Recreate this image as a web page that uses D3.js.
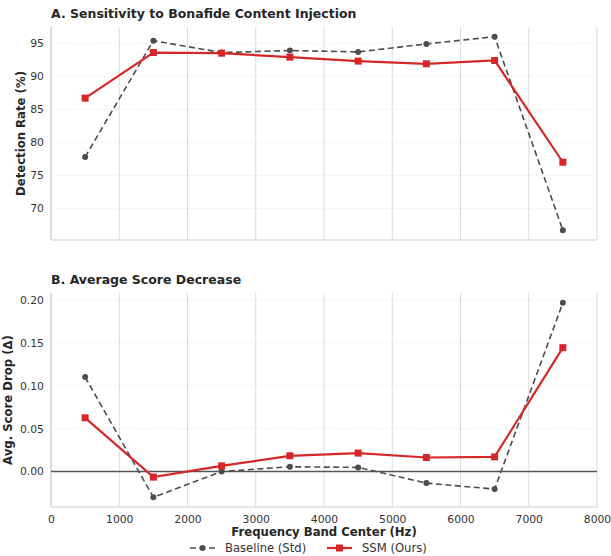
<!DOCTYPE html>
<html>
<head>
<meta charset="utf-8">
<script src="https://cdn.jsdelivr.net/npm/d3@7"></script>
<style>
  html, body { margin: 0; padding: 0; background: #fff; }
  svg { display: block; font-family: "DejaVu Sans", sans-serif; }
</style>
</head>
<body>
<svg id="chart" width="611" height="556"></svg>
<script>
// Frequency bands (centre, Hz)
const bands = [500, 1500, 2500, 3500, 4500, 5500, 6500, 7500];

// Panel A: detection rate (%)
const detBaseline = [77.8, 95.4, 93.6, 93.9, 93.7, 94.9, 96.0, 66.7];
const detSSM      = [86.7, 93.6, 93.5, 92.9, 92.3, 91.9, 92.4, 77.0];

// Panel B: average score drop
const dropBaseline = [0.110, -0.030, 0.000, 0.0055, 0.0048, -0.0135, -0.0205, 0.1965];
const dropSSM      = [0.0625, -0.0065, 0.0066, 0.0183, 0.0214, 0.0163, 0.0170, 0.1442];

const xTicks = [0, 1000, 2000, 3000, 4000, 5000, 6000, 7000, 8000];
const yTicksA = [70, 75, 80, 85, 90, 95];
const yTicksB = [0.00, 0.05, 0.10, 0.15, 0.20];

const seriesNames = ["Baseline (Std)", "SSM (Ours)"];

const svg = d3.select("#chart");
const textColor = "#262626";
const gray = "#4d4d4d";
const red = "#d62728";

const left = 51, right = 597;
const x = d3.scaleLinear().domain([0, 8000]).range([left, right]);

function padDomain(arrs) {
  const all = arrs.flat();
  const lo = d3.min(all), hi = d3.max(all);
  const p = (hi - lo) * 0.05;
  return [lo - p, hi + p];
}

function panel(opts) {
  const { top, bottom, baseVals, ssmVals, yTicks, fmt, title, ylabel, showX, zeroLine } = opts;
  const y = d3.scaleLinear().domain(padDomain([baseVals, ssmVals])).range([bottom, top]);
  const g = svg.append("g");

  // vertical grid
  g.append("g").selectAll("line").data(xTicks).join("line")
    .attr("x1", d => x(d)).attr("x2", d => x(d))
    .attr("y1", top).attr("y2", bottom)
    .attr("stroke", "#dcdcdc").attr("stroke-width", 1);

  // horizontal grid (dotted)
  g.append("g").selectAll("line").data(yTicks).join("line")
    .attr("x1", left).attr("x2", right)
    .attr("y1", d => y(d)).attr("y2", d => y(d))
    .attr("stroke", "#e6e6e6").attr("stroke-width", 1)
    .attr("stroke-dasharray", "1,1.5");

  // spines: left and bottom
  g.append("line").attr("x1", left).attr("x2", left).attr("y1", top).attr("y2", bottom)
    .attr("stroke", "#d0d0d0").attr("stroke-width", 1.2);
  g.append("line").attr("x1", left).attr("x2", right).attr("y1", bottom).attr("y2", bottom)
    .attr("stroke", "#d0d0d0").attr("stroke-width", 1.2);

  if (zeroLine) {
    g.append("line").attr("x1", left).attr("x2", right)
      .attr("y1", y(0)).attr("y2", y(0))
      .attr("stroke", "#555").attr("stroke-width", 1.3);
  }

  // y axis
  const yAxis = d3.axisLeft(y).tickValues(yTicks).tickFormat(fmt).tickSize(0).tickPadding(7);
  const ya = g.append("g").attr("transform", `translate(${left},0)`).call(yAxis);
  ya.select(".domain").remove();
  ya.selectAll("text").attr("font-size", 10.8).attr("fill", "#333")
    .attr("font-family", "DejaVu Sans");

  if (showX) {
    const xAxis = d3.axisBottom(x).tickValues(xTicks).tickFormat(d3.format("d")).tickSize(0).tickPadding(8);
    const xa = g.append("g").attr("transform", `translate(0,${bottom})`).call(xAxis);
    xa.select(".domain").remove();
    xa.selectAll("text").attr("font-size", 10.8).attr("fill", "#333")
      .attr("font-family", "DejaVu Sans");
  }

  // title
  g.append("text").attr("x", left).attr("y", top - 9)
    .attr("font-size", 12.5).attr("font-weight", "bold").attr("fill", textColor)
    .text(title);

  // y label
  g.append("text")
    .attr("transform", `translate(${opts.ylabelX},${(top + bottom) / 2}) rotate(-90)`)
    .attr("text-anchor", "middle")
    .attr("font-size", 11.7).attr("font-weight", "bold").attr("fill", textColor)
    .text(ylabel);

  const line = d3.line().x((d, i) => x(bands[i])).y(d => y(d));

  // baseline (dashed grey, circles)
  g.append("path").datum(baseVals).attr("d", line)
    .attr("fill", "none").attr("stroke", gray).attr("stroke-width", 1.6)
    .attr("stroke-dasharray", "6,3.5");
  g.append("g").selectAll("circle").data(baseVals).join("circle")
    .attr("cx", (d, i) => x(bands[i])).attr("cy", d => y(d)).attr("r", 3)
    .attr("fill", gray);

  // SSM (solid red, squares)
  g.append("path").datum(ssmVals).attr("d", line)
    .attr("fill", "none").attr("stroke", red).attr("stroke-width", 2.2);
  g.append("g").selectAll("rect").data(ssmVals).join("rect")
    .attr("x", (d, i) => x(bands[i]) - 3.5).attr("y", d => y(d) - 3.5)
    .attr("width", 7).attr("height", 7)
    .attr("fill", red);
}

panel({
  top: 27, bottom: 240, baseVals: detBaseline, ssmVals: detSSM,
  yTicks: yTicksA, fmt: d3.format("d"),
  title: "A. Sensitivity to Bonafide Content Injection",
  ylabel: "Detection Rate (%)", ylabelX: 25, showX: false, zeroLine: false
});

panel({
  top: 293, bottom: 507, baseVals: dropBaseline, ssmVals: dropSSM,
  yTicks: yTicksB, fmt: d3.format(".2f"),
  title: "B. Average Score Decrease",
  ylabel: "Avg. Score Drop (\u0394)", ylabelX: 12, showX: true, zeroLine: true
});

// x label
svg.append("text").attr("x", (left + right) / 2).attr("y", 536)
  .attr("text-anchor", "middle").attr("font-size", 11.7).attr("font-weight", "bold")
  .attr("fill", textColor).text("Frequency Band Center (Hz)");

// legend
const lg = svg.append("g").attr("transform", "translate(0,548)");
lg.append("line").attr("x1", 190).attr("x2", 215).attr("y1", 0).attr("y2", 0)
  .attr("stroke", gray).attr("stroke-width", 1.6).attr("stroke-dasharray", "6,3.5");
lg.append("circle").attr("cx", 202.5).attr("cy", 0).attr("r", 3).attr("fill", gray);
lg.append("text").attr("x", 225).attr("y", 0).attr("dy", "0.35em")
  .attr("font-size", 11.6).attr("fill", "#333").text(seriesNames[0]);
lg.append("line").attr("x1", 327).attr("x2", 352).attr("y1", 0).attr("y2", 0)
  .attr("stroke", red).attr("stroke-width", 2.2);
lg.append("rect").attr("x", 336).attr("y", -3.5).attr("width", 7).attr("height", 7).attr("fill", red);
lg.append("text").attr("x", 362).attr("y", 0).attr("dy", "0.35em")
  .attr("font-size", 11.6).attr("fill", "#333").text(seriesNames[1]);
</script>
</body>
</html>
